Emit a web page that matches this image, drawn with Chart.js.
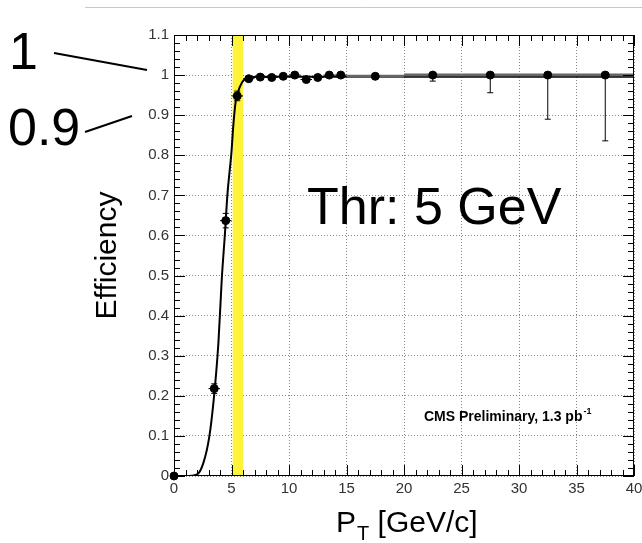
<!DOCTYPE html>
<html>
<head>
<meta charset="utf-8">
<script src="https://cdn.jsdelivr.net/npm/chart.js@4.4.1/dist/chart.umd.min.js"></script>
<style>
  html, body { margin: 0; padding: 0; background: #fff; }
  #wrap { position: relative; width: 642px; height: 543px; }
</style>
</head>
<body>
<div id="wrap"><canvas id="eff" width="642" height="543"></canvas></div>
<script>
// measured points (bin centres) and errors
const ptX = [0, 3.5, 4.5, 5.5, 6.5, 7.5, 8.5, 9.5, 10.5, 11.5, 12.5, 13.5, 14.5, 17.5, 22.5, 27.5, 32.5, 37.5];
const ptEff = [0, 0.218, 0.637, 0.948, 0.991, 0.995, 0.994, 0.997, 1.0, 0.989, 0.994, 1.0, 1.0, 0.997, 1.0, 1.0, 1.0, 1.0];
const ptXErr = [0, 0.5, 0.5, 0.5, 0.5, 0.5, 0.5, 0.5, 0.5, 0.5, 0.5, 0.5, 0.5, 2.5, 2.5, 2.5, 2.5, 2.5];
const ptErrLo = [0, 0.012, 0.018, 0.012, 0.005, 0.003, 0.004, 0.004, 0.003, 0.006, 0.005, 0.003, 0.003, 0.004, 0.015, 0.044, 0.11, 0.164];
const ptErrHi = [0, 0.012, 0.018, 0.012, 0.005, 0.003, 0.004, 0.003, 0, 0.006, 0.005, 0, 0, 0.003, 0, 0, 0, 0];

// fitted turn-on curve
const fitX = [0, 1, 2, 2.55, 3.07, 3.48, 3.86, 4.15, 4.43, 4.64, 5.0, 5.16, 5.36, 5.74, 6.17, 7.2, 10, 20, 30, 40];
const fitEff = [0, 0, 0.004, 0.032, 0.098, 0.198, 0.331, 0.489, 0.605, 0.70, 0.809, 0.875, 0.933, 0.971, 0.99, 0.996, 0.996, 0.996, 0.996, 0.996];

// threshold band
const bandLo = 5.1;
const bandHi = 6.0;

const xTicks = [0, 5, 10, 15, 20, 25, 30, 35, 40];
const yTicks = [0, 0.1, 0.2, 0.3, 0.4, 0.5, 0.6, 0.7, 0.8, 0.9, 1, 1.1];

var points = ptX.map(function (x, i) { return { x: x, y: ptEff[i] }; });
var fit = fitX.map(function (x, i) { return { x: x, y: fitEff[i] }; });

var band = {
  id: 'band',
  beforeDatasetsDraw(chart) {
    var c = chart.ctx, a = chart.chartArea, xs = chart.scales.x;
    c.save();
    c.fillStyle = 'rgb(255,243,58)';
    var l = xs.getPixelForValue(bandLo), r = xs.getPixelForValue(bandHi);
    c.fillRect(l, a.top, r - l, a.bottom - a.top);
    c.restore();
  }
};

var errbars = {
  id: 'errbars',
  beforeDatasetDraw(chart, args) {
    if (args.index !== 0) return;
    var c = chart.ctx, xs = chart.scales.x, ys = chart.scales.y;
    c.save();
    for (var i = 0; i < ptX.length; i++) {
      var wide = ptXErr[i] > 1;
      c.strokeStyle = wide ? '#666' : '#000';
      var px = xs.getPixelForValue(ptX[i]), py = ys.getPixelForValue(ptEff[i]);
      if (ptXErr[i] > 0) {
        c.lineWidth = wide ? 3 : 1;
        c.beginPath();
        c.moveTo(xs.getPixelForValue(ptX[i] - ptXErr[i]), py);
        c.lineTo(xs.getPixelForValue(ptX[i] + ptXErr[i]), py);
        c.stroke();
      }
      c.lineWidth = 1;
      c.strokeStyle = '#000';
      var lo = ys.getPixelForValue(ptEff[i] - ptErrLo[i]);
      var hi = ys.getPixelForValue(ptEff[i] + ptErrHi[i]);
      if (ptErrLo[i] > 0 || ptErrHi[i] > 0) {
        c.beginPath();
        c.moveTo(px, hi); c.lineTo(px, lo);
        if (ptErrLo[i] > 0) { c.moveTo(px - 3, lo); c.lineTo(px + 3, lo); }
        if (ptErrHi[i] > 0) { c.moveTo(px - 3, hi); c.lineTo(px + 3, hi); }
        c.stroke();
      }
    }
    c.restore();
  }
};

var frame = {
  id: 'frame',
  afterDraw(chart) {
    var c = chart.ctx, a = chart.chartArea, xs = chart.scales.x, ys = chart.scales.y;
    c.save();
    c.strokeStyle = '#000';
    c.lineWidth = 1;
    c.strokeRect(a.left + 0.5, a.top + 0.5, a.right - a.left - 1, a.bottom - a.top - 1);
    c.beginPath();
    // x ticks, bottom and top
    for (var v = 0; v <= 40; v++) {
      var px = Math.round(xs.getPixelForValue(v)) + 0.5;
      var len = v % 5 === 0 ? 11 : 6;
      c.moveTo(px, a.bottom); c.lineTo(px, a.bottom - len);
      c.moveTo(px, a.top); c.lineTo(px, a.top + len);
    }
    // y ticks, left and right
    for (var k = 0; k <= 55; k++) {
      var py = Math.round(ys.getPixelForValue(k * 0.02)) + 0.5;
      var ln = k % 5 === 0 ? 11 : 6;
      c.moveTo(a.left, py); c.lineTo(a.left + ln, py);
      c.moveTo(a.right, py); c.lineTo(a.right - ln, py);
    }
    c.stroke();

    // slide overlay
    c.strokeStyle = '#c8c8c8';
    c.beginPath(); c.moveTo(85, 7.5); c.lineTo(642, 7.5); c.stroke();

    c.fillStyle = '#000';
    c.strokeStyle = '#000';
    c.textAlign = 'left';
    c.textBaseline = 'alphabetic';
    c.font = '52px "Liberation Sans", Arial, sans-serif';
    c.fillText('Thr: 5 GeV', 307, 224);
    c.fillText('1', 9, 69);
    c.fillText('0.9', 8, 145);

    c.lineWidth = 2;
    c.beginPath();
    c.moveTo(54, 53); c.lineTo(147, 70);
    c.moveTo(85, 132); c.lineTo(132, 116);
    c.stroke();

    c.font = 'bold 14px "Liberation Sans", Arial, sans-serif';
    var s = 'CMS Preliminary, 1.3 pb';
    c.fillText(s, 424, 421);
    var w = c.measureText(s).width;
    c.font = 'bold 9px "Liberation Sans", Arial, sans-serif';
    c.fillText('-1', 424 + w + 1, 414);

    c.font = '30px "Liberation Sans", Arial, sans-serif';
    c.fillText('P', 336, 532);
    var pw = c.measureText('P').width;
    c.font = '20px "Liberation Sans", Arial, sans-serif';
    c.fillText('T', 336 + pw + 1, 540);
    var tw = c.measureText('T').width;
    c.font = '30px "Liberation Sans", Arial, sans-serif';
    c.fillText(' [GeV/c]', 336 + pw + tw + 1, 532);
    c.restore();
  }
};

var ctx = document.getElementById('eff').getContext('2d');
var chart = new Chart(ctx, {
  type: 'scatter',
  data: {
    datasets: [
      {
        label: 'Efficiency',
        data: points,
        backgroundColor: '#000',
        borderColor: '#000',
        pointRadius: 4,
        pointHoverRadius: 4,
        clip: false
      },
      {
        type: 'line',
        label: 'fit',
        data: fit,
        borderColor: '#000',
        borderWidth: 2,
        pointRadius: 0,
        fill: false,
        cubicInterpolationMode: 'monotone'
      }
    ]
  },
  options: {
    responsive: false,
    animation: false,
    layout: { padding: { left: 90, right: 8, top: 35, bottom: 0 } },
    plugins: { legend: { display: false }, tooltip: { enabled: false } },
    scales: {
      x: {
        type: 'linear',
        min: 0, max: 40,
        afterFit: function (s) { s.height = 67; s.paddingLeft = 0; s.paddingRight = 0; },
        afterBuildTicks: function (s) { s.ticks = xTicks.map(function (v) { return { value: v }; }); },
        grid: { color: '#888', lineWidth: 1, drawTicks: false },
        border: { display: false, dash: [1, 2] },
        ticks: { color: '#333', padding: 4, maxRotation: 0, font: { family: '"Liberation Sans", Arial, sans-serif', size: 15 } },
        title: { display: false }
      },
      y: {
        type: 'linear',
        min: 0, max: 1.1,
        afterFit: function (s) { s.width = 84; s.paddingTop = 0; s.paddingBottom = 0; },
        afterBuildTicks: function (s) { s.ticks = yTicks.map(function (v) { return { value: v }; }); },
        grid: { color: '#888', lineWidth: 1, drawTicks: false },
        border: { display: false, dash: [1, 2] },
        ticks: {
          color: '#333', padding: 5,
          font: { family: '"Liberation Sans", Arial, sans-serif', size: 15 },
          callback: function (v) { return String(Number(v.toFixed(1))); }
        },
        title: { display: true, text: 'Efficiency', color: '#000', padding: 0, font: { family: '"Liberation Sans", Arial, sans-serif', size: 30 } }
      }
    }
  },
  plugins: [band, errbars, frame]
});
</script>
</body>
</html>
